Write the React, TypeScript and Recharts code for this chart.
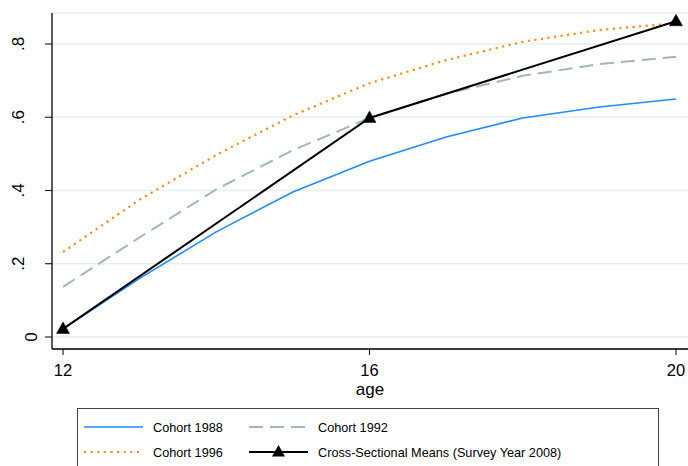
import React from 'react';
import { LineChart, Line, XAxis, YAxis, CartesianGrid, Legend } from 'recharts';

const ages = [12, 13, 14, 15, 16, 17, 18, 19, 20];
const cohort1988 = [0.022, 0.16, 0.287, 0.396, 0.48, 0.546, 0.598, 0.628, 0.65];
const cohort1992 = [0.137, 0.272, 0.403, 0.51, 0.598, 0.664, 0.713, 0.745, 0.765];
const cohort1996 = [0.232, 0.375, 0.497, 0.605, 0.693, 0.756, 0.806, 0.838, 0.857];
const crossAges = [12, 16, 20];
const crossMeans = [0.022, 0.598, 0.862];

const xTicks = [12, 16, 20];
const yTicks = [0, 0.2, 0.4, 0.6, 0.8];
const yTickLabels = ['0', '.2', '.4', '.6', '.8'];

const data = ages.map((a, i) => {
  const ci = crossAges.indexOf(a);
  return {
    age: a,
    c1988: cohort1988[i],
    c1992: cohort1992[i],
    c1996: cohort1996[i],
    cross: ci >= 0 ? crossMeans[ci] : null,
  };
});

const series = [
  { key: 'c1988', name: 'Cohort 1988', color: '#1e8cff', width: 1.6, dash: undefined as string | undefined, marker: false },
  { key: 'c1992', name: 'Cohort 1992', color: '#a3b8b0', width: 2, dash: '14 7', marker: false },
  { key: 'c1996', name: 'Cohort 1996', color: '#ff8a1c', width: 2.2, dash: '2.2 4.4', marker: false },
  { key: 'cross', name: 'Cross-Sectional Means (Survey Year 2008)', color: '#000000', width: 2, dash: undefined as string | undefined, marker: true },
];

const FONT = '"Liberation Sans", Arial, Helvetica, sans-serif';

const Triangle = (props: any) => {
  const { cx, cy, value, index } = props;
  if (value === null || value === undefined || cx == null || cy == null) return <g key={`t${index}`} />;
  const pts = `${cx},${cy - 7} ${cx - 6.5},${cy + 4.5} ${cx + 6.5},${cy + 4.5}`;
  return <polygon key={`t${index}`} points={pts} fill="#000" stroke="#000" strokeWidth={0.5} />;
};

const YTick = (props: any) => {
  const { y, payload } = props;
  const idx = yTicks.indexOf(payload.value);
  const label = idx >= 0 ? yTickLabels[idx] : String(payload.value);
  const bx = label.startsWith('.') ? 24.5 : 37;
  return (
    <text
      x={bx}
      y={y}
      transform={`rotate(-90 ${bx} ${y})`}
      textAnchor="middle"
      fontSize={17}
      fontFamily={FONT}
      fill="#000"
    >
      {label}
    </text>
  );
};

const XTick = (props: any) => {
  const { x, y, payload } = props;
  return (
    <text x={x} y={y} dy="0.71em" textAnchor="middle" fontSize={16.5} fontFamily={FONT} fill="#000">
      {payload.value}
    </text>
  );
};

const AgeLabel = (props: any) => {
  const vb = props.viewBox || {};
  return (
    <text x={vb.x + vb.width / 2} y={vb.y + 45.5} textAnchor="middle" fontSize={17} fontFamily={FONT} fill="#000">
      age
    </text>
  );
};

const LegendBox = () => {
  const rows = [
    [series[0], series[1]],
    [series[2], series[3]],
  ];
  const colSym = [7, 172];
  const colText = [76, 241];
  const rowY = [19, 44];
  return (
    <div
      style={{
        position: 'relative',
        width: 582,
        height: 70,
        border: '1px solid #444',
        boxSizing: 'border-box',
        background: '#fff',
        fontFamily: FONT,
      }}
    >
      <svg width={582} height={70} style={{ position: 'absolute', left: -1, top: -1 }}>
        {rows.map((row, r) =>
          row.map((s, c) => (
            <g key={s.key}>
              <line
                x1={colSym[c]}
                x2={colSym[c] + 59}
                y1={rowY[r]}
                y2={rowY[r]}
                stroke={s.color}
                strokeWidth={s.width}
                strokeDasharray={s.dash}
              />
              {s.marker && (
                <polygon
                  points={`${colSym[c] + 29.5},${rowY[r] - 7} ${colSym[c] + 23},${rowY[r] + 4.5} ${colSym[c] + 36},${rowY[r] + 4.5}`}
                  fill="#000"
                />
              )}
              <text x={colText[c]} y={rowY[r] + 4.6} fontSize={12.7} fontFamily={FONT} fill="#000">
                {s.name}
              </text>
            </g>
          ))
        )}
      </svg>
    </div>
  );
};

export default function App() {
  return (
    <div style={{ position: 'absolute', left: 0, top: 0, width: 688, height: 466, background: '#fff' }}>
      <LineChart width={688} height={466} data={data} margin={{ top: 13, right: 0, bottom: 67, left: 0 }}>
        <CartesianGrid horizontal={true} vertical={false} stroke="#e6eef1" strokeWidth={1.5} />
        <XAxis
          dataKey="age"
          type="number"
          domain={[11.856, 20.157]}
          allowDataOverflow
          ticks={xTicks}
          height={50}
          tickSize={6}
          tickMargin={9}
          tick={<XTick />}
          axisLine={{ stroke: '#000', strokeWidth: 1.3 }}
          tickLine={{ stroke: '#000', strokeWidth: 1 }}
          label={<AgeLabel />}
        />
        <YAxis
          type="number"
          domain={[-0.0328, 0.8846]}
          allowDataOverflow
          ticks={yTicks}
          width={52}
          tickSize={7}
          tick={<YTick />}
          axisLine={{ stroke: '#000', strokeWidth: 1.3 }}
          tickLine={{ stroke: '#000', strokeWidth: 1 }}
        />
        {series.map((s) => (
          <Line
            key={s.key}
            dataKey={s.key}
            name={s.name}
            type="linear"
            stroke={s.color}
            strokeWidth={s.width}
            strokeDasharray={s.dash}
            dot={s.marker ? <Triangle /> : false}
            activeDot={false}
            connectNulls
            isAnimationActive={false}
          />
        ))}
        <Legend
          layout="vertical"
          align="center"
          verticalAlign="middle"
          wrapperStyle={{ left: 77, top: 408, width: 582, height: 70 }}
          content={<LegendBox />}
        />
      </LineChart>
    </div>
  );
}
